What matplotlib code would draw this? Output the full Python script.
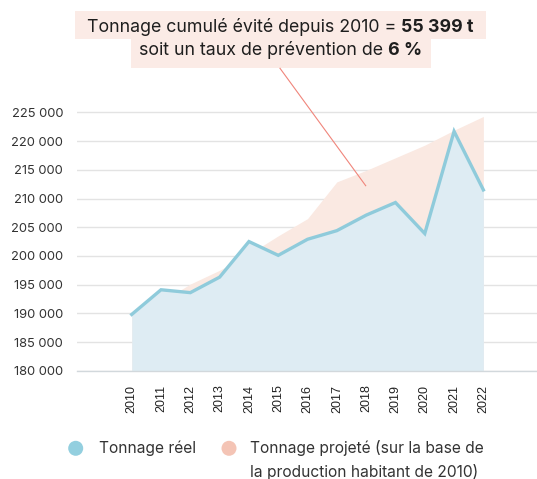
import matplotlib
matplotlib.use("Agg")
import matplotlib.pyplot as plt
from matplotlib.patches import Rectangle, Circle
from matplotlib.ticker import FuncFormatter

years = [2010, 2011, 2012, 2013, 2014, 2015, 2016, 2017, 2018, 2019, 2020, 2021, 2022]
reel = [189800, 194100, 193600, 196300, 202500, 200100, 202900, 204400, 207100, 209300, 203900, 221700, 211500]
projete = [189800, 192000, 195100, 197500, 200300, 203500, 206500, 212900, 214900, 217100, 219300, 221900, 224300]
yticks = [180000, 185000, 190000, 195000, 200000, 205000, 210000, 215000, 220000, 225000]

title_l1 = ("Tonnage cumulé évité depuis 2010 = ", "55 399 t")
title_l2 = ("soit un taux de prévention de ", "6 %")
legend_labels = ["Tonnage réel", "Tonnage projeté (sur la base de", "la production habitant de 2010)"]

FONT = "Inter"
W, H = 537, 479
fig = plt.figure(figsize=(W / 100, H / 100), dpi=100)

def fx(px):
    return px / W

def fy(py):
    return 1 - py / H

ax = fig.add_axes([fx(77), fy(370.7), fx(537 - 77), (370.7 - 95.2) / H])
ymin = 180000
ax.fill_between(years, ymin, projete, color="#fae9e2", lw=0, zorder=1)
ax.fill_between(years, ymin, reel, color="#deecf3", lw=0, zorder=2)
ax.plot(years, reel, color="#8fcbdb", lw=2.4, zorder=3, solid_joinstyle="miter")
ax.set_xlim(2008.133, 2023.83)
ax.set_ylim(180000, 228000)
ax.set_yticks(yticks)
ax.yaxis.set_major_formatter(FuncFormatter(lambda v, p: f"{int(v):,}".replace(",", " ")))
ax.set_xticks(years)
ax.set_xticklabels([str(y) for y in years], rotation=90, fontfamily="Liberation Sans",
                   fontsize=9, color="#222222")
for lab in ax.get_yticklabels():
    lab.set_fontfamily(FONT)
    lab.set_fontsize(9.3)
    lab.set_color("#333333")
ax.tick_params(axis="both", length=0)
ax.tick_params(axis="y", pad=10)
ax.tick_params(axis="x", pad=10)
ax.grid(axis="y", color="#e3e3e3", lw=1, zorder=0)
ax.set_axisbelow(True)
for s in ["top", "right", "left"]:
    ax.spines[s].set_visible(False)
ax.spines["bottom"].set_color("#d2d8dc")
ax.spines["bottom"].set_linewidth(1)

# annotation boxes
fig.patches.append(Rectangle((fx(75), fy(39.3)), fx(485.7 - 75), (39.3 - 10.7) / H,
                             transform=fig.transFigure, color="#fbebe6", lw=0, zorder=0))
fig.patches.append(Rectangle((fx(130.7), fy(68.3)), fx(430.7 - 130.7), (68.3 - 39) / H,
                             transform=fig.transFigure, color="#fbebe6", lw=0, zorder=0))
fig.add_artist(plt.Line2D([fx(280), fx(365.7)], [fy(68.3), fy(185.7)], transform=fig.transFigure,
                          color="#f0857b", lw=0.8, zorder=5))

renderer = fig.canvas.get_renderer()
TS = 12.8

def mixed_line(parts, cx, base_y):
    t1 = fig.text(0, fy(base_y), parts[0], fontfamily=FONT, fontsize=TS, color="#1e1e1e", va="baseline")
    t2 = fig.text(0, fy(base_y), parts[1], fontfamily=FONT, fontsize=TS, color="#1e1e1e",
                  fontweight="bold", va="baseline")
    w1 = t1.get_window_extent(renderer).width
    w2 = t2.get_window_extent(renderer).width
    total = w1 + w2
    x0 = cx - total / 2
    t1.set_x(fx(x0))
    t2.set_x(fx(x0 + w1))

mixed_line(title_l1, 280.5, 32.3)
mixed_line(title_l2, 280.5, 55.0)

# legend markers (drawn in pixel space)
for cxp, col in [(75.7, "#93cfdf"), (229, "#f4c4b5")]:
    c = Circle((cxp / 100, (H - 448.3) / 100), 7.5 / 100, transform=fig.dpi_scale_trans,
               color=col, lw=0)
    fig.patches.append(c)
fig.text(fx(99), fy(448.3), legend_labels[0], fontfamily=FONT, fontsize=11.2, color="#333333", va="center")
fig.text(fx(250), fy(448.3), legend_labels[1], fontfamily=FONT, fontsize=11.2, color="#333333", va="center")
fig.text(fx(250), fy(471.7), legend_labels[2], fontfamily=FONT, fontsize=11.2, color="#333333", va="center")

fig.savefig("out.png", dpi=100)
